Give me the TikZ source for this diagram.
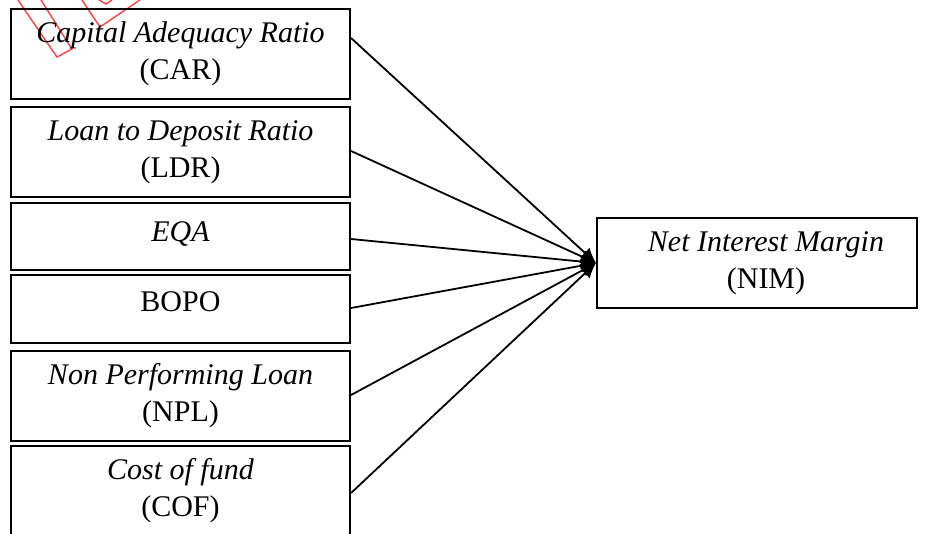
\documentclass[tikz,border=0pt]{standalone}
\usepackage{fontspec}
\setmainfont{Liberation Serif}
\usetikzlibrary{arrows.meta}
\tikzset{
  varbox/.style={draw, line width=2.1pt, minimum width=339pt, inner sep=0pt, align=center,
    font=\fontsize{30}{37}\selectfont},
  nimbox/.style={draw, line width=2.1pt, minimum width=320pt, minimum height=90pt, inner sep=0pt},
  link/.style={line width=1.8pt, -{Latex[length=15pt,width=14pt]}},
  wmark/.style={draw=red!75!white, line width=1.4pt}
}
\begin{document}
\begin{tikzpicture}[x=1pt,y=-1pt]
\useasboundingbox (0,0) rectangle (926,533);
% watermark fragment
\draw[wmark] (18,0) -- (57,57) -- (72,49) -- (41,0);
\draw[wmark] (82,0) -- (100,27) -- (140,0);
\draw[wmark] (99,0) -- (106,4) -- (112,0);
% boxes
\node[varbox, minimum height=90pt] (car) at (180.5,54) {\textit{Capital Adequacy Ratio}\\(CAR)};
\node[varbox, minimum height=90pt] (ldr) at (180.5,152) {\textit{Loan to Deposit Ratio}\\(LDR)};
\node[varbox, minimum height=67pt, text height=20pt, text depth=11pt] (eqa) at (180.5,236.5) {\textit{EQA}};
\node[varbox, minimum height=68pt, text height=20pt, text depth=16pt] (bopo) at (180.5,309) {BOPO};
\node[varbox, minimum height=90pt] (npl) at (180.5,396) {\textit{Non Performing Loan}\\(NPL)};
\node[varbox, minimum height=90pt] (cof) at (180.5,491) {\textit{Cost of fund}\\(COF)};
\node[nimbox, label={[xshift=9pt, align=center, font=\fontsize{30}{37}\selectfont]center:\textit{Net Interest Margin}\\(NIM)}] (nim) at (757,263) {};
% connectors
\draw[link] ([yshift=16pt]car.east) -- (nim.west);
\draw[link] ([yshift=1pt]ldr.east) -- (nim.west);
\draw[link] ([yshift=-2.5pt]eqa.east) -- (nim.west);
\draw[link] ([yshift=1pt]bopo.east) -- (nim.west);
\draw[link] ([yshift=1pt]npl.east) -- (nim.west);
\draw[link] ([yshift=-2pt]cof.east) -- (nim.west);
\end{tikzpicture}
\end{document}
